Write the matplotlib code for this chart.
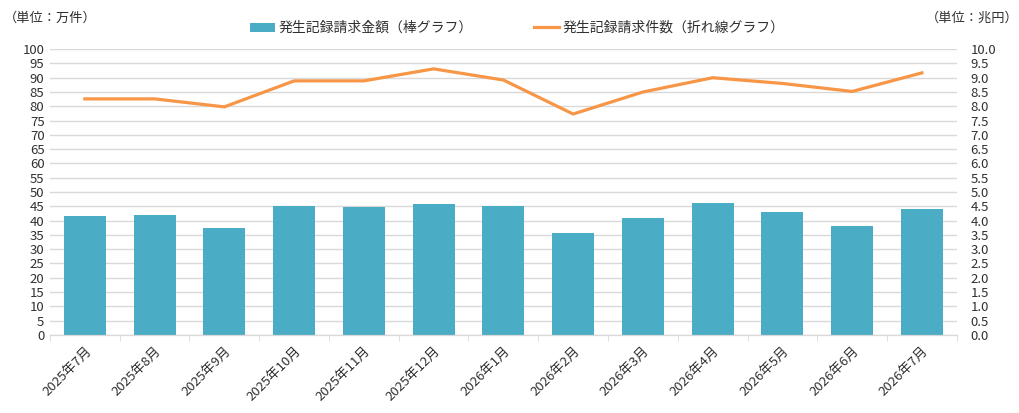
import matplotlib
matplotlib.use("Agg")
import matplotlib.pyplot as plt
from matplotlib.ticker import FormatStrFormatter, MultipleLocator, FixedLocator
import numpy as np

plt.rcParams['font.family'] = ['Noto Sans CJK JP', 'DejaVu Sans']

months = ["2025年7月", "2025年8月", "2025年9月", "2025年10月", "2025年11月", "2025年12月",
          "2026年1月", "2026年2月", "2026年3月", "2026年4月", "2026年5月", "2026年6月", "2026年7月"]
amount_trillion_yen = [4.16, 4.19, 3.73, 4.50, 4.48, 4.59, 4.52, 3.56, 4.09, 4.60, 4.29, 3.80, 4.40]
count_10k = [82.6, 82.6, 79.8, 88.9, 88.9, 93.1, 89.2, 77.3, 85.0, 90.0, 88.0, 85.2, 91.7]

bar_label = "発生記録請求金額（棒グラフ）"
line_label = "発生記録請求件数（折れ線グラフ）"

bar_color = "#4BACC6"
line_color = "#F79646"
grid_color = "#D9D9D9"
text_color = "#303030"

fig = plt.figure(figsize=(10.2, 4.13), dpi=100)
ax = fig.add_axes([0.049, 0.189, 0.889, 0.692])   # line, left axis
ax2 = ax.twinx()                                   # bars, right axis

x = np.arange(len(months))

ax2.bar(x, amount_trillion_yen, width=0.6, color=bar_color, zorder=2, label=bar_label)
ax2.set_ylim(0, 10)
ax2.yaxis.set_major_locator(MultipleLocator(0.5))
ax2.yaxis.set_major_formatter(FormatStrFormatter('%.1f'))
ax2.grid(axis='y', color=grid_color, linewidth=1.0, zorder=0)
ax2.set_axisbelow(True)

ax.plot(x, count_10k, color=line_color, linewidth=2.3, label=line_label, zorder=3)
ax.set_ylim(0, 100)
ax.yaxis.set_major_locator(MultipleLocator(5))
ax.set_xlim(-0.5, len(months) - 0.5)

ax.set_zorder(ax2.get_zorder() + 1)
ax.patch.set_visible(False)

ax.set_xticks(x)
ax.set_xticklabels(months, rotation=45, ha='right', rotation_mode='anchor',
                   fontsize=9.5, color=text_color)
ax.tick_params(axis='x', length=0, pad=7)
ax.xaxis.set_minor_locator(FixedLocator(np.arange(-0.5, len(months), 1.0)))
ax.tick_params(axis='x', which='minor', length=4, color=grid_color)

for a in (ax, ax2):
    for s in ('top', 'left', 'right'):
        a.spines[s].set_visible(False)
    a.spines['bottom'].set_color(grid_color)
ax.tick_params(axis='y', length=0, labelsize=9.5, labelcolor=text_color, pad=4)
ax2.tick_params(axis='y', length=0, labelsize=9.5, labelcolor=text_color, pad=10)
ax2.tick_params(axis='x', length=0)

fig.text(0.004, 0.957, "（単位：万件）", fontsize=9.5, color=text_color, ha='left', va='center')
fig.text(0.999, 0.957, "（単位：兆円）", fontsize=9.5, color=text_color, ha='right', va='center')

h1, l1 = ax2.get_legend_handles_labels()
h2, l2 = ax.get_legend_handles_labels()
fig.legend(h1 + h2, l1 + l2, loc='center', bbox_to_anchor=(0.507, 0.932), ncol=2,
           frameon=False, fontsize=10, handlelength=1.8, handleheight=0.6,
           columnspacing=4.4, handletextpad=0.25, labelcolor=text_color)

fig.savefig("out.png", dpi=100)
